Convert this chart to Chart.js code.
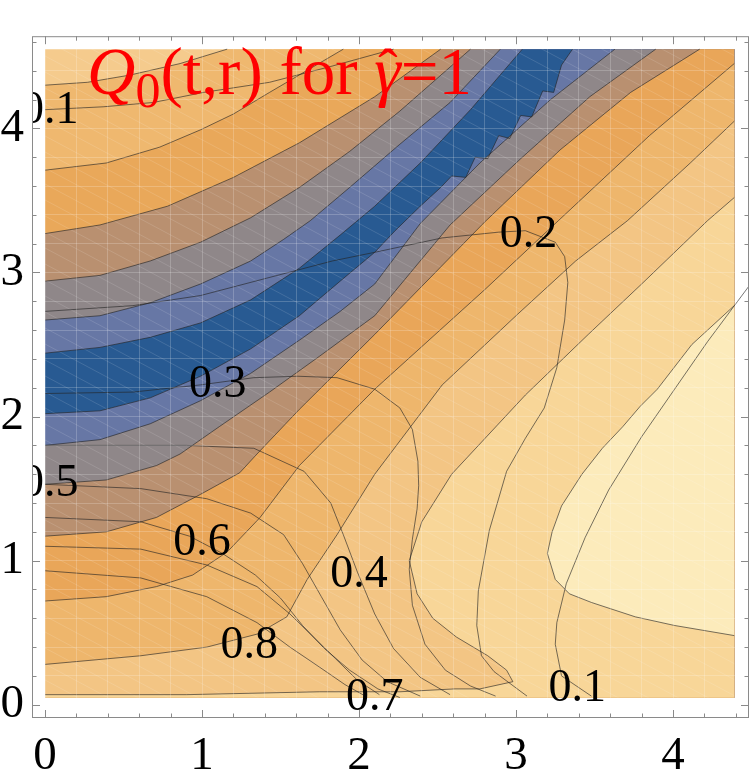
<!DOCTYPE html>
<html>
<head>
<meta charset="utf-8">
<script src="https://cdn.jsdelivr.net/npm/chart.js@4.4.1/dist/chart.umd.min.js"></script>
<style>
html, body { margin: 0; padding: 0; background: #fff; }
#wrap { position: relative; width: 750px; height: 782px; }
#plot { display: block; }
#title { position: absolute; left: 87px; top: 38px; font-family: "Liberation Serif", "DejaVu Serif", serif; font-size: 67px; line-height: 67px; color: #ff0000; white-space: nowrap; }
#title .it { font-style: italic; }
#title .sub { font-size: 50px; position: relative; top: 13px; }
#title .gam { position: relative; font-style: italic; }
#title .hat { position: absolute; left: 4px; top: 1px; font-style: normal; font-size: 58px; }
</style>
</head>
<body>
<div id="wrap">
<canvas id="plot" width="750" height="782"></canvas>
<div id="title"><span class="it">Q</span><span class="sub">0</span>(t,r) for <span class="gam">γ<span class="hat">ˆ</span></span>=1</div>
</div>
<script>
// region covered by the shaded contours (t, r)
var tRange = [0, 4.39];
var rRange = [0.05, 4.55];

var xTickLabels = [0, 1, 2, 3, 4];
var yTickLabels = [0, 1, 2, 3, 4];

// edges of the shaded bands, from the upper left corner to the lower right
var edge1 = [[0,4.30],[0.27,4.32],[0.54,4.37],[0.86,4.45],[1.16,4.55]];
var edge2 = [[0,3.71],[0.39,3.76],[0.73,3.87],[0.99,3.99],[1.20,4.10],[1.43,4.25],[1.90,4.55]];
var edge3 = [[0,3.27],[0.35,3.33],[0.78,3.46],[1.20,3.66],[1.62,3.90],[2.10,4.22],[2.52,4.55]];
var edge4 = [[0,2.94],[0.35,2.98],[0.67,3.08],[0.99,3.21],[1.31,3.38],[1.62,3.59],[1.94,3.84],[2.26,4.12],[2.71,4.55]];
var edge5 = [[0,2.67],[0.35,2.70],[0.67,2.79],[0.99,2.92],[1.31,3.08],[1.52,3.23],[1.69,3.36],[1.94,3.59],[2.26,3.89],[2.58,4.18],[2.90,4.55]];
var edge6 = [[0,2.44],[0.35,2.48],[0.67,2.55],[0.99,2.65],[1.31,2.81],[1.62,3.03],[1.88,3.26],[2.10,3.46],[2.39,3.76],[2.71,4.13],[3.04,4.55]];
var edge7 = [[0,2.02],[0.35,2.04],[0.67,2.13],[0.99,2.28],[1.31,2.47],[1.62,2.70],[1.88,2.94],[2.10,3.14],[2.23,3.29],[2.39,3.46],[2.52,3.59],[2.59,3.67],[2.68,3.66],[2.74,3.80],[2.82,3.79],[2.89,3.95],[2.96,3.93],[3.03,4.09],[3.10,4.08],[3.17,4.26],[3.24,4.25],[3.29,4.44],[3.36,4.55]];
var edge8 = [[0,1.80],[0.35,1.84],[0.67,1.95],[0.99,2.11],[1.31,2.30],[1.62,2.53],[1.88,2.73],[2.10,2.92],[2.39,3.34],[2.77,3.76],[3.22,4.20],[3.63,4.55]];
var edge9 = [[0,1.53],[0.39,1.56],[0.71,1.66],[0.86,1.74],[1.11,1.93],[1.43,2.17],[1.75,2.42],[2.10,2.70],[2.58,3.33],[3.03,3.79],[3.47,4.22],[3.89,4.55]];
var edge10 = [[0,1.17],[0.39,1.20],[0.71,1.30],[0.99,1.46],[1.24,1.61],[1.35,1.74],[1.62,2.05],[2.10,2.57],[2.80,3.35],[3.28,3.85],[3.73,4.25],[4.17,4.55]];
var edge11 = [[0,0.72],[0.39,0.75],[0.71,0.82],[0.94,0.90],[1.16,1.06],[1.37,1.30],[1.62,1.66],[2.10,2.19],[2.80,2.88],[3.27,3.36],[3.85,3.95],[4.39,4.45]];
var edge12 = [[0,0.28],[0.61,0.34],[1.03,0.40],[1.35,0.49],[1.54,0.61],[1.67,0.87],[1.86,1.18],[2.10,1.60],[2.53,2.22],[3.01,2.71],[3.38,3.08],[3.71,3.36],[4.11,3.76],[4.39,4.05]];
var edge13 = [[0,0.07],[0.90,0.07],[1.75,0.09],[2.26,0.09],[2.61,0.11],[2.77,0.11],[2.98,0.16],[2.94,0.24],[2.82,0.34],[2.62,0.47],[2.47,0.60],[2.37,0.77],[2.32,1.00],[2.40,1.27],[2.59,1.60],[3.06,2.15],[3.46,2.57],[3.80,2.92],[4.22,3.36],[4.39,3.52]];
var edge14 = [[4.39,2.77],[4.22,2.60],[4.12,2.50],[3.90,2.19],[3.79,2.07],[3.68,1.93],[3.55,1.78],[3.42,1.60],[3.29,1.38],[3.23,1.20],[3.20,1.05],[3.25,0.87],[3.34,0.77],[3.48,0.71],[3.76,0.61],[4.01,0.55],[4.39,0.48]];

// Q0 contour lines
var q01a = [[0,4.13],[0.37,4.15],[0.69,4.18],[1.01,4.25],[1.43,4.32],[1.82,4.43],[2.22,4.55]];
var q01b = [[4.48,2.90],[4.22,2.52],[4.01,2.19],[3.80,1.86],[3.59,1.49],[3.44,1.16],[3.32,0.84],[3.26,0.57],[3.25,0.42],[3.29,0.20],[3.48,0.06]];
var q02 = [[0,2.73],[0.56,2.77],[0.99,2.84],[1.41,2.96],[1.83,3.08],[2.10,3.14],[2.53,3.24],[2.89,3.28],[3.06,3.29],[3.25,3.21],[3.31,3.11],[3.33,2.93],[3.31,2.67],[3.26,2.34],[3.18,2.06],[3.06,1.85],[2.94,1.62],[2.83,1.21],[2.76,0.79],[2.75,0.55],[2.78,0.34],[2.86,0.23],[3.07,0.06]];
var q03 = [[0,2.16],[0.56,2.17],[0.99,2.22],[1.33,2.27],[1.61,2.28],[1.86,2.27],[2.10,2.19],[2.26,2.06],[2.34,1.91],[2.375,1.69],[2.38,1.52],[2.37,1.36],[2.34,1.15],[2.32,0.94],[2.34,0.69],[2.42,0.42],[2.55,0.24],[2.71,0.13],[2.87,0.06]];
var q04 = [[0,1.80],[0.90,1.80],[1.33,1.78],[1.65,1.62],[1.82,1.40],[1.90,1.18],[1.99,0.92],[2.10,0.63],[2.22,0.39],[2.39,0.19],[2.58,0.07]];
var q05 = [[0,1.53],[0.61,1.50],[1.03,1.43],[1.31,1.33],[1.52,1.18],[1.64,0.98],[1.76,0.75],[1.88,0.52],[2.02,0.31],[2.18,0.16],[2.39,0.06]];
var q06 = [[0,1.30],[0.61,1.27],[0.92,1.17],[1.13,1.05],[1.34,0.90],[1.50,0.74],[1.64,0.55],[1.78,0.39],[1.94,0.24],[2.12,0.11],[2.26,0.05]];
var q07 = [[0,1.10],[0.61,1.08],[1.03,0.97],[1.35,0.82],[1.56,0.63],[1.70,0.48],[1.85,0.32],[1.99,0.17],[2.13,0.07]];
var q08 = [[0,0.93],[0.61,0.88],[1.03,0.75],[1.35,0.57],[1.56,0.40],[1.75,0.26],[1.91,0.14],[2.04,0.06]];

// contour labels
var labelText = ['0.1', '0.3', '0.2', '0.5', '0.6', '0.4', '0.8', '0.7', '0.1'];
var labelT = [0.03, 1.10, 3.08, 0.03, 1.00, 2.00, 1.30, 2.10, 3.39];
var labelR = [4.12, 2.22, 3.26, 1.53, 1.12, 0.90, 0.41, 0.05, 0.11];

var edges = [edge1, edge2, edge3, edge4, edge5, edge6, edge7, edge8, edge9, edge10, edge11, edge12, edge13, edge14];
var qLines = [q01a, q01b, q02, q03, q04, q05, q06, q07, q08];

var bandColors = ['#F5CB8D', '#EFB86F', '#E9A85A', '#B99070', '#8F8789', '#6777A5', '#285A92',
  '#6777A5', '#8F8789', '#B99070', '#E9A659', '#EEB66C', '#F3C584', '#F8D698', '#FCEBBB'];
var lineColor = 'rgba(35,35,35,0.62)';
var serif = '"Liberation Serif", "Times New Roman", serif';

function pts(a) {
  return a.map(function (p) { return { x: p[0], y: p[1] }; });
}

function isMajor(v) {
  return Math.abs(v - Math.round(v)) < 1e-6;
}

// faint diagonal mesh seen on top of the shading
function meshPattern() {
  var c = document.createElement('canvas');
  c.width = 30; c.height = 16;
  var g = c.getContext('2d');
  g.strokeStyle = 'rgba(255,255,255,0.13)';
  g.lineWidth = 1;
  g.beginPath();
  g.moveTo(0, -16); g.lineTo(30, 0);
  g.moveTo(0, 0); g.lineTo(30, 16);
  g.moveTo(0, 16); g.lineTo(30, 32);
  g.stroke();
  return g.createPattern(c, 'repeat');
}

var minorX = [], minorY = [];
for (var k = 0; k <= 22; k++) minorX.push(Math.round(k * 2) / 10);
for (var k = 0; k <= 23; k++) minorY.push(Math.round(k * 2) / 10);

var datasets = [];
var lo = rRange[0], hi = rRange[1], left = tRange[0], right = tRange[1];
var box = [[left, lo], [left, hi], [right, hi], [right, lo]];

datasets.push({
  data: pts(box), showLine: true, fill: 'shape', backgroundColor: bandColors[0],
  borderWidth: 0, borderColor: 'rgba(0,0,0,0)', pointRadius: 0, order: 100
});

edges.forEach(function (e, i) {
  var last = e[e.length - 1];
  var closing;
  if (e === edge14) closing = [];
  else if (last[0] >= right) closing = [[right, lo], [left, lo]];
  else closing = [[right, hi], [right, lo], [left, lo]];
  datasets.push({
    data: pts(e.concat(closing)),
    showLine: true, fill: 'shape', backgroundColor: bandColors[i + 1],
    borderWidth: 0, borderColor: 'rgba(0,0,0,0)', pointRadius: 0, order: 99 - i
  });
  datasets.push({
    data: pts(e), showLine: true, fill: false,
    borderColor: lineColor, borderWidth: 1, pointRadius: 0, order: 10
  });
});

datasets.push({
  data: pts(box), showLine: true, fill: 'shape', backgroundColor: meshPattern(),
  borderWidth: 0, borderColor: 'rgba(0,0,0,0)', pointRadius: 0, order: 20
});

qLines.forEach(function (q) {
  datasets.push({
    data: pts(q), showLine: true, fill: false,
    borderColor: lineColor, borderWidth: 1, pointRadius: 0, order: 5
  });
});

var framePlugin = {
  id: 'frame',
  afterDraw: function (chart) {
    var ctx = chart.ctx, a = chart.chartArea;
    var sx = chart.scales.x, sy = chart.scales.y;
    ctx.save();
    // contour labels
    ctx.beginPath();
    ctx.rect(a.left, a.top, a.right - a.left, a.bottom - a.top);
    ctx.clip();
    ctx.fillStyle = '#000';
    ctx.font = '46px ' + serif;
    ctx.textAlign = 'center';
    ctx.textBaseline = 'middle';
    labelText.forEach(function (s, i) {
      ctx.fillText(s, sx.getPixelForValue(labelT[i]), sy.getPixelForValue(labelR[i]));
    });
    ctx.restore();

    ctx.save();
    ctx.strokeStyle = '#8a8a8a';
    ctx.lineWidth = 1;
    ctx.strokeRect(a.left + 0.5, a.top + 0.5, a.right - a.left - 1, a.bottom - a.top - 1);
    ctx.beginPath();
    minorX.forEach(function (v) {
      var px = Math.round(sx.getPixelForValue(v)) + 0.5;
      var len = isMajor(v) ? 8 : 4.5;
      ctx.moveTo(px, a.bottom); ctx.lineTo(px, a.bottom - len);
      ctx.moveTo(px, a.top); ctx.lineTo(px, a.top + len);
    });
    minorY.forEach(function (v) {
      var py = Math.round(sy.getPixelForValue(v)) + 0.5;
      var len = isMajor(v) ? 8 : 4.5;
      ctx.moveTo(a.left, py); ctx.lineTo(a.left + len, py);
      ctx.moveTo(a.right, py); ctx.lineTo(a.right - len, py);
    });
    ctx.stroke();
    ctx.restore();
  }
};

new Chart(document.getElementById('plot').getContext('2d'), {
  type: 'scatter',
  data: { datasets: datasets },
  options: {
    responsive: false,
    animation: false,
    layout: { padding: { left: 0, right: 1, top: 1, bottom: 0 } },
    plugins: { legend: { display: false }, tooltip: { enabled: false } },
    elements: { line: { tension: 0 } },
    scales: {
      x: {
        type: 'linear', min: -0.083, max: 4.484,
        afterFit: function (s) { s.height = 64; },
        afterBuildTicks: function (s) { s.ticks = minorX.map(function (v) { return { value: v }; }); },
        ticks: {
          autoSkip: false, maxRotation: 0, padding: 10, color: '#000',
          font: { family: serif, size: 47 },
          callback: function (v) { return isMajor(v) && xTickLabels.indexOf(Math.round(v)) >= 0 ? String(Math.round(v)) : ''; }
        },
        grid: { drawTicks: false, color: 'rgba(255,255,255,0.2)', z: 1 },
        border: { display: false }
      },
      y: {
        type: 'linear', min: -0.092, max: 4.64,
        afterFit: function (s) { s.width = 32; },
        afterBuildTicks: function (s) { s.ticks = minorY.map(function (v) { return { value: v }; }); },
        ticks: {
          autoSkip: false, padding: 8, color: '#000',
          font: { family: serif, size: 47 },
          callback: function (v) { return isMajor(v) && yTickLabels.indexOf(Math.round(v)) >= 0 ? String(Math.round(v)) : ''; }
        },
        grid: { drawTicks: false, color: 'rgba(255,255,255,0.2)', z: 1 },
        border: { display: false }
      }
    }
  },
  plugins: [framePlugin]
});
</script>
</body>
</html>
